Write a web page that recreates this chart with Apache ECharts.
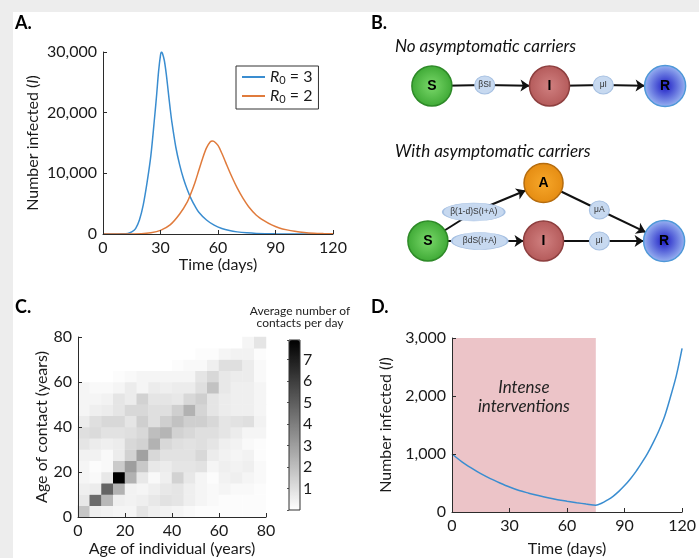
<!DOCTYPE html>
<html>
<head>
<meta charset="utf-8">
<script src="https://cdn.jsdelivr.net/npm/echarts@6/dist/echarts.min.js"></script>
<style>
html, body { margin: 0; padding: 0; background: #fff; }
#main { width: 699px; height: 558px; }
</style>
</head>
<body>
<div id="main"></div>
<script>
// A. epidemic curves
var daysR3 = [0, 5, 10, 13, 15, 17, 19, 21, 23, 25, 27, 28, 29, 30, 30.5, 31, 32, 33, 34, 35, 36, 38, 40, 42, 44, 46, 48, 50, 54, 58, 62, 66, 70, 75, 80, 90, 100, 110, 120];
var infR3 = [0, 0, 30, 100, 350, 900, 2300, 4800, 8500, 13000, 19500, 23000, 26800, 29500, 30000, 29800, 28600, 26400, 23600, 20800, 18300, 14300, 11400, 9100, 7300, 5800, 4600, 3600, 2300, 1450, 900, 560, 350, 190, 100, 25, 6, 1, 0];
var daysR2 = [0, 10, 20, 25, 30, 35, 40, 44, 46, 48, 50, 52, 54, 56, 57, 58, 60, 62, 64, 66, 68, 70, 73, 76, 80, 84, 88, 92, 96, 100, 105, 110, 115, 120];
var infR2 = [0, 5, 50, 200, 600, 1500, 3300, 5300, 6800, 8500, 10500, 12500, 14200, 15200, 15350, 15250, 14600, 13300, 11800, 10300, 8900, 7600, 5900, 4500, 3100, 2200, 1500, 1000, 680, 450, 250, 130, 70, 30];
var seriesNames = ['R0 = 3', 'R0 = 2'];

// C. contact matrix, rows = age of contact (0-5 at bottom), cols = age of individual
var ageBins = ['0-5', '5-10', '10-15', '15-20', '20-25', '25-30', '30-35', '35-40', '40-45', '45-50', '50-55', '55-60', '60-65', '65-70', '70-75', '75-80'];
var contactMatrix = [
	[1.8, 0.5, 0.4, 0.3, 0.3, 0.8, 0.5, 0.4, 0.3, 0.2, 0.1, 0.1, 0.1, 0.1, 0.1, 0.1],
	[0.7, 4.6, 2.2, 0.5, 0.4, 0.5, 0.7, 0.9, 0.8, 0.5, 0.3, 0.2, 0.1, 0.1, 0.1, 0.1],
	[0.5, 0.6, 4.8, 2.4, 0.4, 0.3, 0.5, 0.7, 0.8, 0.5, 0.3, 0.2, 0.3, 0.2, 0.2, 0.1],
	[0.3, 0.2, 0.7, 7.9, 2.4, 0.7, 0.2, 0.5, 1.4, 0.7, 0.3, 0.1, 0.4, 0.5, 0.3, 0.2],
	[0.3, 0.1, 0.2, 1.6, 3.0, 1.7, 0.7, 0.6, 0.8, 0.8, 0.9, 0.3, 0.5, 0.4, 0.5, 0.2],
	[0.4, 0.4, 0.2, 0.6, 1.4, 2.9, 1.2, 0.9, 0.9, 0.9, 1.2, 0.6, 0.4, 0.3, 0.4, 0.1],
	[0.8, 0.6, 0.5, 0.6, 1.2, 1.4, 2.4, 1.2, 1.0, 0.9, 1.0, 0.8, 0.5, 0.4, 0.2, 0.1],
	[1.0, 1.1, 0.9, 0.9, 1.0, 1.2, 2.0, 2.3, 1.4, 1.2, 1.0, 1.0, 0.8, 0.6, 0.3, 0.3],
	[0.6, 1.0, 1.2, 1.2, 0.8, 1.5, 1.0, 1.5, 1.9, 1.5, 1.5, 1.2, 0.8, 0.9, 1.0, 0.4],
	[0.3, 0.5, 0.6, 0.8, 1.2, 1.2, 1.0, 1.0, 1.5, 2.4, 1.3, 0.8, 0.6, 0.5, 0.5, 0.3],
	[0.3, 0.3, 0.4, 0.8, 0.6, 1.4, 0.8, 0.8, 0.7, 1.2, 1.5, 0.8, 0.6, 0.5, 0.5, 0.3],
	[0.3, 0.2, 0.2, 0.3, 0.6, 0.3, 0.6, 0.5, 0.6, 0.6, 1.0, 1.9, 0.7, 0.5, 0.5, 0.3],
	[0.0, 0.0, 0.0, 0.1, 0.2, 0.3, 0.3, 0.3, 0.3, 0.3, 0.8, 1.2, 0.7, 0.6, 0.6, 0.2],
	[0.0, 0.0, 0.0, 0.0, 0.0, 0.0, 0.0, 0.0, 0.1, 0.2, 0.2, 0.5, 1.0, 1.0, 0.6, 0.2],
	[0.0, 0.0, 0.0, 0.0, 0.0, 0.0, 0.0, 0.0, 0.0, 0.0, 0.1, 0.1, 0.3, 0.4, 0.4, 0.1],
	[0.0, 0.0, 0.0, 0.0, 0.0, 0.0, 0.0, 0.0, 0.0, 0.0, 0.0, 0.0, 0.0, 0.0, 0.3, 0.8]
];
var contactMax = 7.9;

// D. intervention scenario
var daysD = [0, 5, 10, 15, 20, 25, 30, 35, 40, 45, 50, 55, 60, 65, 70, 75, 78, 81, 84, 87, 90, 93, 96, 99, 102, 105, 108, 111, 114, 117, 120];
var infD = [1000, 870, 760, 660, 575, 500, 430, 370, 325, 283, 245, 212, 185, 160, 138, 118, 150, 205, 270, 355, 455, 570, 700, 850, 1010, 1200, 1410, 1660, 1990, 2350, 2820];
var interventionEnd = 75;

// B. model diagrams (diagram units)
var topNodes = [
	{ name: 'S', pos: [32, 26], kind: 'S' },
	{ name: 'βSI', pos: [85, 25], kind: 'rate' },
	{ name: 'I', pos: [150, 26], kind: 'I' },
	{ name: 'μI', pos: [204, 25], kind: 'rate' },
	{ name: 'R', pos: [266, 26], kind: 'R' }
];
var topLinks = [['S', 'βSI', 0], ['βSI', 'I', 1], ['I', 'μI', 0], ['μI', 'R', 1]];
var bottomNodes = [
	{ name: 'S', pos: [28, 181], kind: 'S' },
	{ name: 'β(1-d)S(I+A)', pos: [74, 152], kind: 'rateWide' },
	{ name: 'A', pos: [144, 123], kind: 'A' },
	{ name: 'βdS(I+A)', pos: [80, 181], kind: 'rateMid' },
	{ name: 'I', pos: [144, 181], kind: 'I' },
	{ name: 'μI', pos: [200, 181], kind: 'rate' },
	{ name: 'μA', pos: [200, 150], kind: 'rate' },
	{ name: 'R', pos: [265, 181], kind: 'R' }
];
var bottomLinks = [['S', 'β(1-d)S(I+A)', 0], ['β(1-d)S(I+A)', 'A', 1], ['S', 'βdS(I+A)', 0], ['βdS(I+A)', 'I', 1],
	['I', 'μI', 0], ['μI', 'R', 1], ['A', 'μA', 0], ['μA', 'R', 1]];

var blue = '#3a8dd0', orange = '#e07b3c', ink = '#1a1a1a', axisInk = '#2b2b2b';
var FONT = 'Lato';

function radial(c0, c1) {
	return { type: 'radial', x: 0.5, y: 0.5, r: 0.5, colorStops: [{ offset: 0, color: c0 }, { offset: 1, color: c1 }] };
}
var ellipse = 'path://M0,50 A50,50 0 1,1 100,50 A50,50 0 1,1 0,50 Z';
var nodeLook = {
	S: { size: 40, color: radial('#7ad86a', '#3ea935'), border: '#2e8a28' },
	I: { size: 40, color: radial('#d08080', '#b45a5a'), border: '#8e4040' },
	R: { size: 41, color: radial('#1c1cc4', '#9bb6f2'), border: '#4f98d8' },
	A: { size: 39, color: radial('#f6a72a', '#e58c12'), border: '#b56c0e' },
	rate: { size: [20, 18], color: '#c7d9f0', border: '#a6c0e2' },
	rateMid: { size: [56, 17], color: '#c7d9f0', border: '#a6c0e2' },
	rateWide: { size: [62, 18], color: '#c7d9f0', border: '#a6c0e2' }
};

function buildGraph(nodes, links) {
	var data = nodes.map(function(n) {
		var look = nodeLook[n.kind];
		var isRate = n.kind.indexOf('rate') === 0;
		return {
			name: n.name,
			value: n.pos,
			symbol: isRate ? ellipse : 'circle',
			symbolSize: look.size,
			itemStyle: { color: look.color, borderColor: look.border, borderWidth: isRate ? 1 : 1.5 },
			label: isRate ? { show: true, position: 'inside', color: '#333', fontSize: 8.5, fontFamily: 'Liberation Sans' }
				: { show: true, position: 'inside', color: '#000', fontSize: 14, fontWeight: 'bold', fontFamily: 'Liberation Sans' }
		};
	});
	var edges = links.map(function(l) {
		return { source: l[0], target: l[1], symbol: ['none', l[2] ? 'arrow' : 'none'], symbolSize: [0, 9] };
	});
	return { data: data, links: edges };
}
var topGraph = buildGraph(topNodes, topLinks);
var bottomGraph = buildGraph(bottomNodes, bottomLinks);

var heatData = [];
for (var r = 0; r < contactMatrix.length; r++) {
	for (var c = 0; c < contactMatrix[r].length; c++) {
		heatData.push([c, r, contactMatrix[r][c]]);
	}
}

function pairs(xs, ys) {
	return xs.map(function(x, i) { return [x, ys[i]]; });
}

function plotAxis(o) {
	var base = {
		type: 'value',
		nameLocation: 'middle',
		z: 10,
		axisLine: { show: true, onZero: false, lineStyle: { color: axisInk, width: 1 } },
		axisTick: { show: true, inside: true, length: 4, lineStyle: { color: axisInk } },
		splitLine: { show: false },
		axisLabel: { margin: 6, color: ink, fontFamily: FONT, fontSize: 16 },
		nameTextStyle: { color: ink, fontFamily: FONT, fontSize: 16, rich: { i: { fontStyle: 'italic', fontFamily: FONT, fontSize: 16, color: ink } } }
	};
	for (var k in o) base[k] = o[k];
	return base;
}
function hiddenAxis(o) {
	var base = { show: false };
	for (var k in o) base[k] = o[k];
	return base;
}
function thousands(v) {
	return String(v).replace(/\B(?=(\d{3})+(?!\d))/g, ',');
}

var chart = echarts.init(document.getElementById('main'));
var option = {
	animation: false,
	backgroundColor: '#ededed',
	textStyle: { fontFamily: FONT },
	graphic: [
		{ type: 'rect', z: -100, shape: { x: 13, y: 12, width: 686, height: 546 }, style: { fill: '#ffffff' } },
		{ type: 'text', left: 15, top: 14, style: { text: 'A.', font: 'bold 18px Lato', fill: '#000' } },
		{ type: 'text', left: 371, top: 14, style: { text: 'B.', font: 'bold 18px Lato', fill: '#000' } },
		{ type: 'text', left: 15, top: 298, style: { text: 'C.', font: 'bold 18px Lato', fill: '#000' } },
		{ type: 'text', left: 371, top: 298, style: { text: 'D.', font: 'bold 18px Lato', fill: '#000' } },
		{ type: 'text', left: 395, top: 38, style: { text: 'No asymptomatic carriers', font: 'italic 17px Lato', fill: '#111' } },
		{ type: 'text', left: 395, top: 143, style: { text: 'With asymptomatic carriers', font: 'italic 17px Lato', fill: '#111' } },
		{ type: 'text', x: 300, y: 305, style: { text: 'Average number of\ncontacts per day', font: '12px Lato', fill: '#222', align: 'center', lineHeight: 12 } },
		{ type: 'rect', z: 100, shape: { x: 289, y: 340, width: 11, height: 170 }, style: { fill: null, stroke: '#333', lineWidth: 1 } }
	],
	legend: {
		data: seriesNames,
		left: 236, top: 66,
		orient: 'vertical',
		icon: 'rect', itemWidth: 23, itemHeight: 2, itemGap: 2,
		padding: [3, 6, 4, 6],
		borderColor: '#333', borderWidth: 1, backgroundColor: '#fff',
		formatter: function(name) {
			return '{r|R}{s|0}{t| = ' + name.split('= ')[1] + '}';
		},
		textStyle: {
			color: ink, fontFamily: FONT, fontSize: 16,
			rich: {
				r: { fontStyle: 'italic', fontFamily: FONT, fontSize: 16, color: ink },
				s: { fontFamily: FONT, fontSize: 11, color: ink, padding: [7, 0, 0, 0] },
				t: { fontFamily: FONT, fontSize: 16, color: ink }
			}
		}
	},
	grid: [
		{ left: 103, top: 52, width: 230, height: 182 },
		{ left: 400, top: 60, width: 300, height: 200 },
		{ left: 78, top: 337, width: 188, height: 181 },
		{ left: 289, top: 340, width: 11, height: 170 },
		{ left: 452, top: 338, width: 231, height: 180 }
	],
	xAxis: [
		plotAxis({ gridIndex: 0, position: 'bottom', min: 0, max: 120, interval: 30, name: 'Time (days)', nameGap: 15 }),
		hiddenAxis({ gridIndex: 1, position: 'bottom', type: 'value', min: 0, max: 300 }),
		hiddenAxis({ gridIndex: 2, position: 'bottom', type: 'category', data: ageBins }),
		plotAxis({ gridIndex: 2, position: 'bottom', min: 0, max: 80, interval: 20, name: 'Age of individual (years)', nameGap: 24 }),
		hiddenAxis({ gridIndex: 3, position: 'bottom', type: 'value', min: 0, max: 1 }),
		plotAxis({ gridIndex: 4, position: 'bottom', min: 0, max: 120, interval: 30, name: 'Time (days)', nameGap: 29 })
	],
	yAxis: [
		plotAxis({ gridIndex: 0, position: 'left', min: 0, max: 30000, interval: 10000, name: 'Number infected ({i|I})', nameGap: 62,
			axisLabel: { margin: 6, color: ink, fontFamily: FONT, fontSize: 16, formatter: thousands } }),
		hiddenAxis({ gridIndex: 1, position: 'left', type: 'value', min: 0, max: 200, inverse: true }),
		hiddenAxis({ gridIndex: 2, position: 'left', type: 'category', data: ageBins }),
		plotAxis({ gridIndex: 2, position: 'left', min: 0, max: 80, interval: 20, name: 'Age of contact (years)', nameGap: 28 }),
		{
			gridIndex: 3, type: 'value', min: 0, max: contactMax, interval: 1, position: 'right',
			axisLine: { show: false }, splitLine: { show: false },
			axisTick: { show: true, inside: true, length: 2, lineStyle: { color: '#555' } },
			axisLabel: { margin: 3, color: ink, fontFamily: FONT, fontSize: 16,
				formatter: function(v) { return (v > 0 && v % 1 === 0) ? String(v) : ''; } }
		},
		plotAxis({ gridIndex: 4, position: 'left', min: 0, max: 3000, interval: 1000, name: 'Number infected ({i|I})', nameGap: 58,
			axisLabel: { margin: 6, color: ink, fontFamily: FONT, fontSize: 16, formatter: thousands } })
	],
	visualMap: {
		type: 'continuous',
		seriesIndex: 4,
		min: 0, max: contactMax,
		calculable: false,
		orient: 'vertical',
		left: 289, top: 340,
		itemWidth: 11, itemHeight: 170,
		padding: 0,
		inRange: { color: ['#ffffff', '#000000'] }
	},
	series: [
		{ name: seriesNames[0], type: 'line', xAxisIndex: 0, yAxisIndex: 0, data: pairs(daysR3, infR3),
			showSymbol: false, smooth: 0.3, lineStyle: { color: blue, width: 1.5 }, itemStyle: { color: blue } },
		{ name: seriesNames[1], type: 'line', xAxisIndex: 0, yAxisIndex: 0, data: pairs(daysR2, infR2),
			showSymbol: false, smooth: 0.3, lineStyle: { color: orange, width: 1.5 }, itemStyle: { color: orange } },
		{ type: 'graph', coordinateSystem: 'cartesian2d', xAxisIndex: 1, yAxisIndex: 1, layout: 'none',
			data: topGraph.data, links: topGraph.links, lineStyle: { color: '#111', width: 2, opacity: 1, curveness: 0 },
			emphasis: { disabled: true } },
		{ type: 'graph', coordinateSystem: 'cartesian2d', xAxisIndex: 1, yAxisIndex: 1, layout: 'none',
			data: bottomGraph.data, links: bottomGraph.links, lineStyle: { color: '#111', width: 2, opacity: 1, curveness: 0 },
			emphasis: { disabled: true } },
		{ type: 'heatmap', xAxisIndex: 2, yAxisIndex: 2, data: heatData, emphasis: { disabled: true } },
		{ type: 'line', xAxisIndex: 5, yAxisIndex: 5, data: pairs(daysD, infD), showSymbol: false, smooth: 0.3,
			lineStyle: { color: blue, width: 1.5 },
			markArea: {
				silent: true,
				itemStyle: { color: 'rgba(217,137,145,0.5)' },
				label: { show: true, position: 'insideTop', distance: 40, formatter: 'Intense\ninterventions',
					fontStyle: 'italic', fontFamily: FONT, fontSize: 17, lineHeight: 19, color: '#222' },
				data: [[{ xAxis: 0, yAxis: 0 }, { xAxis: interventionEnd, yAxis: 3000 }]]
			} }
	]
};
chart.setOption(option);
</script>
</body>
</html>
